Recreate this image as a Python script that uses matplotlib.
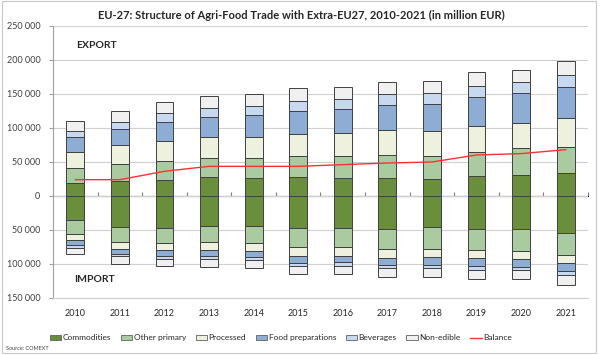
import matplotlib.pyplot as plt
import numpy as np
from matplotlib.patches import Patch, Rectangle
from matplotlib.lines import Line2D
from matplotlib.ticker import FuncFormatter

plt.rcParams['font.family'] = ['Lato', 'DejaVu Sans']

years = ['2010', '2011', '2012', '2013', '2014', '2015', '2016', '2017', '2018', '2019', '2020', '2021']
groups = ['Commodities', 'Other primary', 'Processed', 'Food preparations', 'Beverages', 'Non-edible']

# export values (million EUR), one list per group
exp_commodities = [19600, 22500, 24000, 27500, 26500, 28400, 26500, 26500, 25000, 28900, 30900, 33800]
exp_other = [21600, 25000, 28000, 28400, 29400, 30400, 32300, 33800, 33800, 36300, 39700, 38700]
exp_processed = [23500, 27000, 29400, 30400, 30400, 31900, 33400, 36800, 36800, 38200, 37200, 42200]
exp_foodprep = [22100, 24000, 26900, 29400, 32800, 34800, 35700, 36700, 39700, 41700, 43200, 45600]
exp_beverages = [8800, 10800, 13300, 13200, 13300, 14700, 14700, 16200, 16200, 17200, 16600, 18100]
exp_nonedible = [14700, 16200, 17100, 18200, 17100, 18100, 17200, 18100, 17100, 19600, 17200, 20100]

# import values (million EUR)
imp_commodities = [35300, 46100, 47500, 44600, 44600, 47500, 46600, 48000, 46100, 48000, 48000, 54400]
imp_other = [20600, 21500, 21600, 22600, 24500, 27500, 28400, 30400, 31400, 31400, 32900, 32900]
imp_processed = [8800, 9900, 10300, 12200, 11300, 13200, 12700, 12300, 12200, 12300, 11700, 11200]
imp_foodprep = [6900, 7300, 8300, 8800, 9300, 10300, 8900, 10800, 11300, 11700, 11800, 11800]
imp_beverages = [4400, 3900, 4500, 4400, 3900, 4000, 5900, 4900, 4400, 4900, 4900, 6400]
imp_nonedible = [9800, 11300, 11200, 11300, 12300, 12200, 11700, 13200, 13700, 13300, 13300, 14200]

balance = [24000, 24000, 36300, 43600, 43600, 43600, 46100, 48500, 50000, 60300, 62300, 68100]

colors = ['#6A8F3C', '#A9CB9F', '#EEF1DE', '#8EADD5', '#C6D9F0', '#F0F0F0']

exports = [exp_commodities, exp_other, exp_processed, exp_foodprep, exp_beverages, exp_nonedible]
imports = [imp_commodities, imp_other, imp_processed, imp_foodprep, imp_beverages, imp_nonedible]

fig = plt.figure(figsize=(6, 3.55), dpi=100)
ax = fig.add_axes([0.0883, 0.1606, 0.8917, 0.7662])

x = np.arange(len(years))
w = 0.4

bottom = np.zeros(len(years))
for vals, c in zip(exports, colors):
    ax.bar(x, vals, w, bottom=bottom, color=c, edgecolor='#404040', linewidth=0.7, zorder=3)
    bottom += np.array(vals)

bottom = np.zeros(len(years))
for vals, c in zip(imports, colors):
    ax.bar(x, -np.array(vals), w, bottom=bottom, color=c, edgecolor='#404040', linewidth=0.7, zorder=3)
    bottom -= np.array(vals)

ax.plot(x, balance, color='#FF3030', linewidth=1.0, zorder=4)

ax.set_xlim(-0.5, len(years) - 0.5)
ax.set_ylim(-150000, 250000)
ax.set_yticks(np.arange(-150000, 250001, 50000))
ax.yaxis.set_major_formatter(FuncFormatter(lambda v, p: '{:,.0f}'.format(abs(v)).replace(',', ' ')))
ax.grid(axis='y', color='#D0D0D0', linewidth=0.8, zorder=0)

ax.set_xticks(x)
ax.set_xticklabels(years)
ax.tick_params(axis='x', length=0, pad=8, labelsize=6.5, colors='#262626')
ax.tick_params(axis='y', length=3, color='#A0A0A0', labelsize=6.5, labelcolor='#404040', pad=6)

for s in ['top', 'right']:
    ax.spines[s].set_visible(False)
ax.spines['left'].set_color('#A0A0A0')
ax.spines['bottom'].set_color('#D0D0D0')

# zero line with category ticks
zero = ax.secondary_xaxis(150000 / 400000)
zero.set_xticks(np.arange(-0.5, len(years), 1.0))
zero.set_xticklabels([])
zero.tick_params(direction='in', length=3, color='#808080')
zero.spines['top'].set_color('#808080')
zero.spines['top'].set_linewidth(0.8)

ax.text(0.03, 222000, 'EXPORT', fontsize=7.5, fontweight='bold', color='#262626', va='center')
ax.text(-0.02, -123000, 'IMPORT', fontsize=7.5, fontweight='bold', color='#262626', va='center')

fig.text(0.502, 0.955, 'EU-27: Structure of Agri-Food Trade with Extra-EU27, 2010-2021 (in million EUR)',
         ha='center', va='center', fontsize=8, fontweight='bold', color='#262626')

handles = [Patch(facecolor=c, edgecolor='#606060', linewidth=0.6) for c in colors]
handles.append(Line2D([0], [0], color='#FF3030', linewidth=1.0))
fig.legend(handles, groups + ['Balance'], loc='center', bbox_to_anchor=(0.468, 0.048), ncol=7,
           frameon=False, fontsize=6, handlelength=1.4, handleheight=0.6, handletextpad=0.15,
           columnspacing=1.15, labelcolor='#262626')

fig.text(0.01, 0.017, 'Source: COMEXT', fontsize=4, color='#404040', va='center')

fig.patches.append(Rectangle((0.003, 0.006), 0.99, 0.99, transform=fig.transFigure,
                             fill=False, edgecolor='#C8C8C8', linewidth=0.8))

fig.savefig('out.png')
